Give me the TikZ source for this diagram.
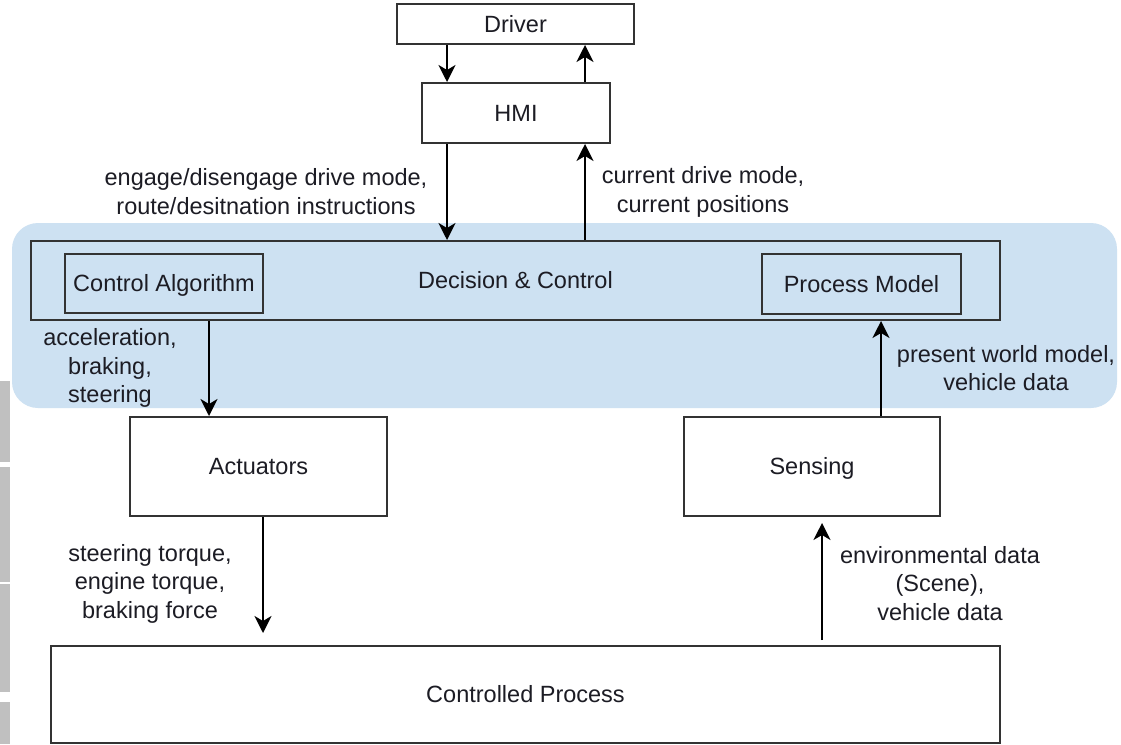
\documentclass[tikz,border=0pt]{standalone}
\usepackage{fontspec}
\setmainfont{Liberation Sans}
\usetikzlibrary{arrows.meta,positioning}
\definecolor{regionblue}{RGB}{205,225,242}
\definecolor{edgegray}{RGB}{51,51,51}
\definecolor{textdark}{RGB}{28,28,36}
\definecolor{sidebar}{RGB}{192,192,192}
\tikzset{
  blk/.style={draw=edgegray, line width=2pt, rectangle, inner sep=0pt,
              text height=19pt, text depth=3pt,
              font=\fontsize{23.5}{28.5}\selectfont, text=textdark},
  lbl/.style={align=center, inner sep=0pt,
              font=\fontsize{23.5}{28.5}\selectfont, text=textdark},
  flow/.style={draw=black, line width=2pt,
               -{Stealth[length=17pt,width=17pt,inset=5pt]}},
}
\begin{document}
\begin{tikzpicture}[x=1pt,y=-1pt]
  \useasboundingbox (0,0) rectangle (1121,744);
  \fill[white] (0,0) rectangle (1121,744);

  % side bar segments along the left edge
  \fill[sidebar] (0,381) rectangle (10,462);
  \fill[sidebar] (0,467) rectangle (10,582);
  \fill[sidebar] (0,584) rectangle (10,692);
  \fill[sidebar] (0,702) rectangle (10,744);

  % highlighted decision region
  \fill[regionblue, rounded corners=26pt] (12,223) rectangle (1117,408);

  % blocks
  \node[blk, minimum width=237pt, minimum height=40pt] (driver) at (515.5,24) {Driver};
  \node[blk, minimum width=188pt, minimum height=60pt] (hmi) at (516,113) {HMI};
  \node[blk, minimum width=969pt, minimum height=79pt] (dc) at (515.5,280.5) {Decision \& Control};
  \node[blk, minimum width=198pt, minimum height=59pt] (ca) at (164,283.5) {Control Algorithm};
  \node[blk, minimum width=199pt, minimum height=60pt] (pm) at (861.5,284) {Process Model};
  \node[blk, minimum width=257pt, minimum height=99pt] (act) at (258.5,466.5) {Actuators};
  \node[blk, minimum width=256pt, minimum height=99pt] (sens) at (812,466.5) {Sensing};
  \node[blk, minimum width=949pt, minimum height=97pt] (cp) at (525.5,694.5) {Controlled Process};

  % vertical lanes of the connectors
  \coordinate (laneA) at (447,0);
  \coordinate (laneB) at (585,0);
  \coordinate (laneC) at (209,0);
  \coordinate (laneD) at (881,0);
  \coordinate (actEnd) at (263,633);
  \coordinate (cpStart) at (822,640);
  \coordinate (sensEnd) at (822,523);

  % connectors
  \draw[flow] (driver.south -| laneA) -- (hmi.north -| laneA);
  \draw[flow] (hmi.north -| laneB) -- (driver.south -| laneB);
  \draw[flow] (hmi.south -| laneA) -- (dc.north -| laneA);
  \draw[flow] (dc.north -| laneB) -- (hmi.south -| laneB);
  \draw[flow] (dc.south -| laneC) -- (act.north -| laneC);
  \draw[flow] (sens.north -| laneD) -- (dc.south -| laneD);
  \draw[flow] (act.south -| actEnd) -- (actEnd);
  \draw[flow] (cpStart) -- (sensEnd);

  % connector labels
  \node[lbl] (l1) at (266,191.5) {engage/disengage drive mode,\\route/desitnation instructions};
  \node[lbl] (l2) at (703,192) {current drive mode,\\current positions};
  \node[lbl] (l3) at (110,368) {acceleration,\\braking,\\steering};
  \node[lbl] (l4) at (1006,368) {present world model,\\vehicle data};
  \node[lbl] (l5) at (150,583.5) {steering torque,\\engine torque,\\braking force};
  \node[lbl] (l6) at (940,583.5) {environmental data\\(Scene),\\vehicle data};
\end{tikzpicture}
\end{document}
